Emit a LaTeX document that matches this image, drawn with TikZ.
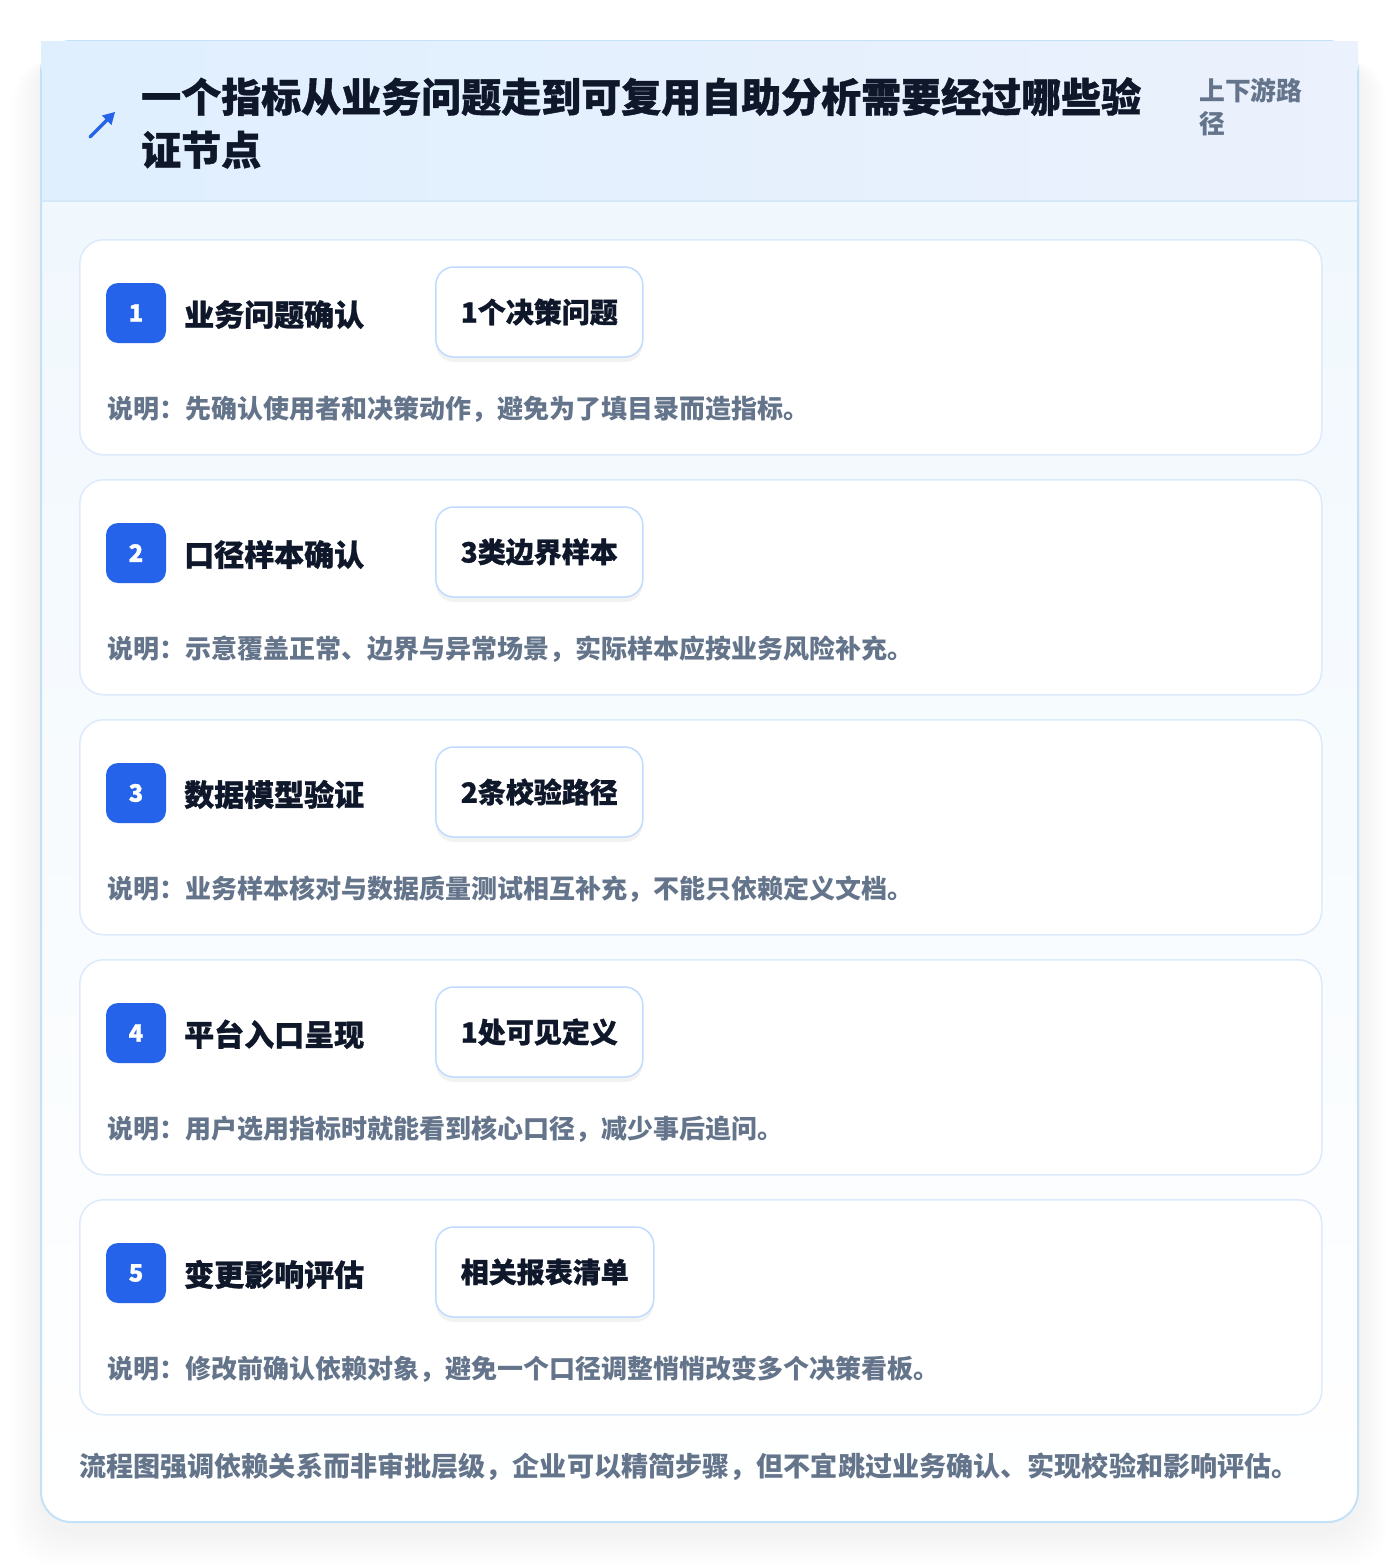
\documentclass[tikz,border=0pt]{standalone}
\usepackage{fontspec}
\setmainfont{Noto Sans CJK SC}
\newfontfamily\heavyfont{Noto Sans CJK SC}[BoldFeatures={FakeBold=1.0}]
\usetikzlibrary{shadows}
\definecolor{ink}{HTML}{0F172A}
\definecolor{muted}{HTML}{64748B}
\definecolor{blue}{HTML}{2563EB}
\definecolor{outerb}{HTML}{C3E2F7}
\definecolor{cardb}{HTML}{DCEAFB}
\definecolor{pillb}{HTML}{BFDBFE}
\definecolor{headl}{HTML}{DFEFFE}
\definecolor{headr}{HTML}{EBF1FD}
\definecolor{bodyt}{HTML}{EFF7FD}
\definecolor{headline}{HTML}{D5E8FA}
\tikzset{
  card/.style={draw=cardb, line width=1.5pt, fill=white, rounded corners=24pt,
    minimum width=1242pt, minimum height=215pt, anchor=north west, inner sep=0pt},
  badge/.style={fill=blue, rounded corners=12pt, minimum size=60pt, inner sep=0pt,
    text=white, font=\heavyfont\bfseries\fontsize{24}{26}\selectfont},
  steptitle/.style={anchor=base west, inner sep=0pt, text=ink,
    font=\heavyfont\bfseries\fontsize{30}{34}\selectfont},
  pill/.style={draw=pillb, line width=1.5pt, fill=white, rounded corners=18pt,
    minimum height=90pt, inner xsep=25pt, inner ysep=0pt, anchor=west, text=ink,
    font=\heavyfont\bfseries\fontsize{28}{32}\selectfont,
    drop shadow={shadow xshift=0pt, shadow yshift=-5pt, opacity=0.05, fill=black}},
  desc/.style={anchor=base west, inner sep=0pt, text=muted,
    font=\bfseries\fontsize{26}{30}\selectfont},
  foot/.style={anchor=base west, inner sep=0pt, text=muted,
    font=\bfseries\fontsize{27.1}{30}\selectfont},
  title/.style={anchor=base west, inner sep=0pt, text=ink,
    font=\heavyfont\bfseries\fontsize{40}{46}\selectfont},
  side/.style={anchor=base west, inner sep=0pt, text=muted,
    font=\bfseries\fontsize{25.8}{30}\selectfont},
}
\begin{document}
\begin{tikzpicture}[x=1pt,y=-1pt]
\useasboundingbox (0,0) rectangle (1400,1564);
\fill[white] (0,0) rectangle (1400,1564);
% soft shadow of the outer card
\foreach \d in {4,8,...,48} {
  \fill[black, opacity=0.005, rounded corners=40pt] (41-\d*0.6,41+\d*0.2+10) rectangle (1358+\d*0.6,1522+\d*0.7+10);
}
% outer card body
\fill[top color=bodyt, bottom color=white, rounded corners=30pt] (41,41) rectangle (1358,1522);
\draw[outerb, line width=2pt, rounded corners=30pt] (41,41) rectangle (1358,1522);
% header band
\fill[left color=headl, right color=headr] (41,41) rectangle (1358,201);
\draw[headline, line width=1.5pt] (41,201) -- (1358,201);
\draw[outerb, line width=2pt] (41,70) -- (41,201) (1358,70) -- (1358,201);
% arrow icon
\draw[blue, line width=3.5pt, line cap=round] (90,137) -- (110,117);
\fill[blue] (115,112) -- (102,115.5) -- (111.5,125) -- cycle;
% title
\node[title] (title1) at (141,112) {一个指标从业务问题走到可复用自助分析需要经过哪些验};
\node[title] (title2) at (141,165) {证节点};
\node[side] (side1) at (1199,100) {上下游路};
\node[side] (side2) at (1199,133) {径};
% steps
\foreach \i/\t/\p/\d in {
  1/业务问题确认/1个决策问题/说明：先确认使用者和决策动作，避免为了填目录而造指标。,
  2/口径样本确认/3类边界样本/说明：示意覆盖正常、边界与异常场景，实际样本应按业务风险补充。,
  3/数据模型验证/2条校验路径/说明：业务样本核对与数据质量测试相互补充，不能只依赖定义文档。,
  4/平台入口呈现/1处可见定义/说明：用户选用指标时就能看到核心口径，减少事后追问。,
  5/变更影响评估/相关报表清单/说明：修改前确认依赖对象，避免一个口径调整悄悄改变多个决策看板。} {
  \pgfmathsetmacro{\T}{239+240*(\i-1)}
  \node[card] (card\i) at (79,\T) {};
  \node[badge] (badge\i) at (136,\T+74) {\i};
  \node[steptitle] (stitle\i) at (184,\T+87) {\t};
  \node[pill] (pill\i) at (435,\T+73) {\p};
  \node[desc] (desc\i) at (107,\T+179) {\d};
}
% footer
\node[foot] (footer) at (79,1476) {流程图强调依赖关系而非审批层级，企业可以精简步骤，但不宜跳过业务确认、实现校验和影响评估。};
\end{tikzpicture}
\end{document}
